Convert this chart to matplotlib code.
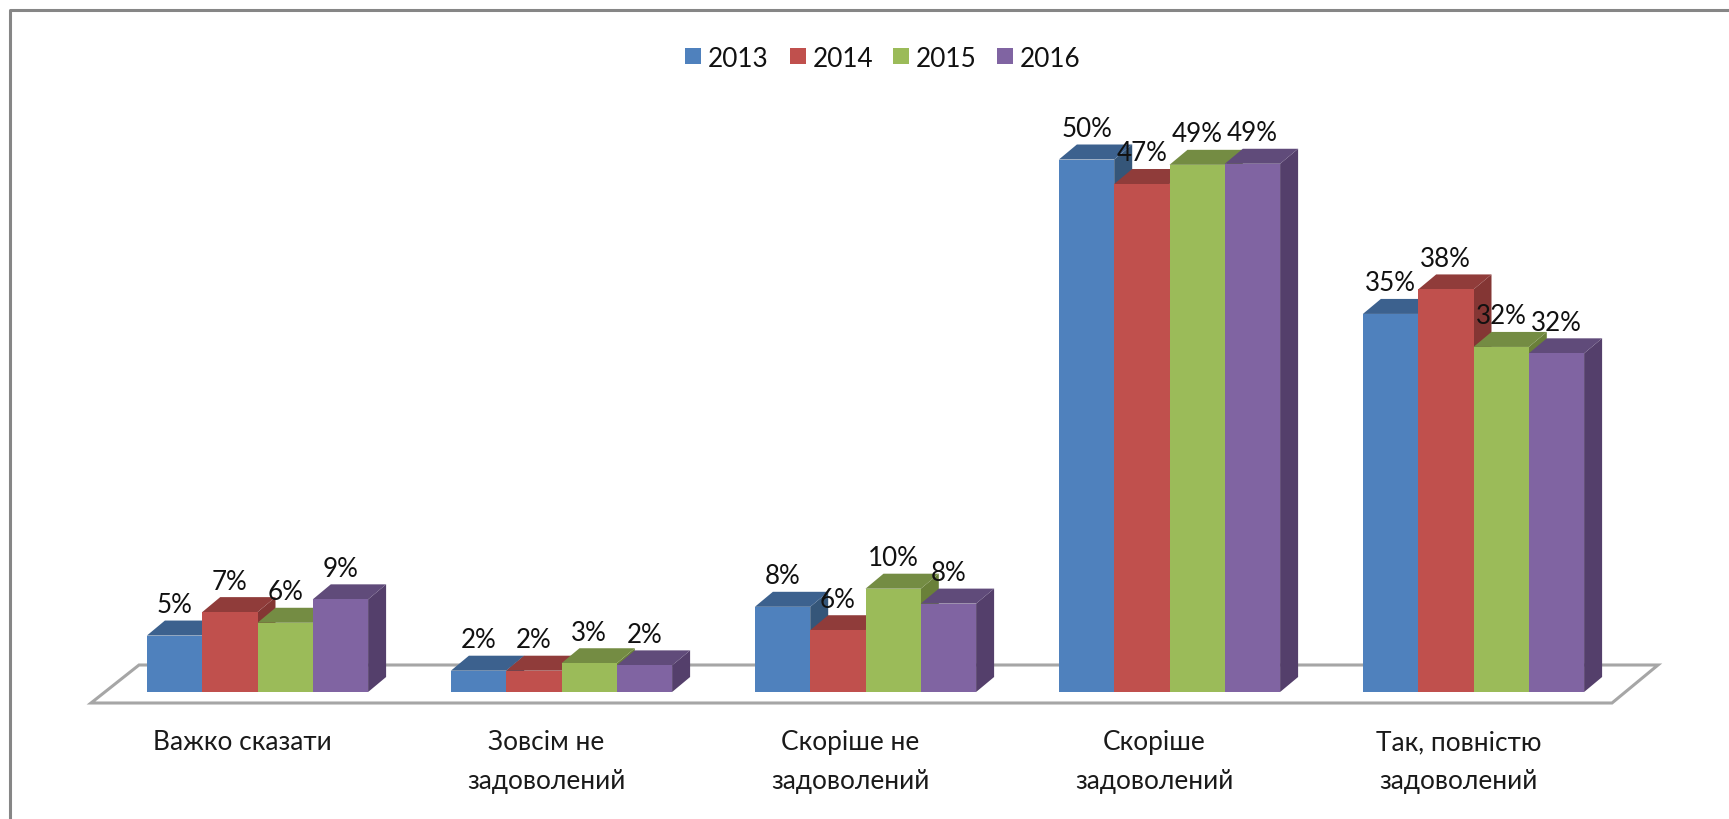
import matplotlib
matplotlib.use('Agg')
import matplotlib.pyplot as plt
from matplotlib.patches import Polygon, Rectangle
from matplotlib.lines import Line2D

categories = ['Важко сказати', 'Зовсім не\nзадоволений', 'Скоріше не\nзадоволений',
              'Скоріше\nзадоволений', 'Так, повністю\nзадоволений']
years = ['2013', '2014', '2015', '2016']
v2013 = [5.3, 2.0, 8.0, 50.0, 35.5]
v2014 = [7.5, 2.0, 5.8, 47.7, 37.8]
v2015 = [6.5, 2.7, 9.7, 49.5, 32.4]
v2016 = [8.7, 2.5, 8.3, 49.6, 31.8]
labels2013 = ['5%', '2%', '8%', '50%', '35%']
labels2014 = ['7%', '2%', '6%', '47%', '38%']
labels2015 = ['6%', '3%', '10%', '49%', '32%']
labels2016 = ['9%', '2%', '8%', '49%', '32%']

front = ['#4f81bd', '#c0504d', '#9bbb59', '#8064a2']
top = ['#3c618e', '#903c3a', '#748c43', '#604b7a']
side = ['#355679', '#843634', '#6a8039', '#543f6b']

plt.rcParams['font.family'] = ['Lato', 'Open Sans', 'DejaVu Sans']

W, H = 1729, 819
PX_X = 304.0  # px per category
PX_Y = 10.65  # px per percent
X0, Y0 = 257.5, 692.0

fig = plt.figure(figsize=(W / 100, H / 100), dpi=100)
ax = fig.add_axes([0, 0, 1, 1])
ax.set_xlim(-X0 / PX_X, (W - X0) / PX_X)
ax.set_ylim(-(H - Y0) / PX_Y, Y0 / PX_Y)
ax.axis('off')


def px(x):
    return (x - X0) / PX_X


def py(y):
    return (Y0 - y) / PX_Y


bw = 55.3 / PX_X
dx = 18 / PX_X
dy = 15 / PX_Y

# rama wykresu
ax.add_line(Line2D([px(9.5), px(9.5), px(1729)], [py(819), py(9.5), py(9.5)], color='#868686', lw=2.2, zorder=1))

# podloga
floor = [(px(91), py(703)), (px(139), py(665)), (px(1658), py(665)), (px(1612), py(703))]
ax.add_patch(Polygon(floor, closed=True, fc='white', ec='#a6a6a6', lw=2.2, zorder=2))

series = [v2013, v2014, v2015, v2016]
series_labels = [labels2013, labels2014, labels2015, labels2016]
z = 3
for c in range(len(categories)):
    for s in range(4):
        val = series[s][c]
        x = c - 2 * bw + s * bw
        ax.bar(x, val, bw, align='edge', color=front[s], zorder=z + 0.2)
        ax.add_patch(Polygon([(x + bw, 0), (x + bw + dx, dy), (x + bw + dx, val + dy), (x + bw, val)],
                             closed=True, fc=side[s], ec='none', zorder=z))
        ax.add_patch(Polygon([(x, val), (x + dx, val + dy), (x + bw + dx, val + dy), (x + bw, val)],
                             closed=True, fc=top[s], ec='none', zorder=z + 0.1))
        z += 1

for c in range(len(categories)):
    for s in range(4):
        x = c - 2 * bw + (s + 0.5) * bw
        ax.text(x, series[s][c] + 17.5 / PX_Y, series_labels[s][c], ha='center', va='bottom',
                fontsize=18.7, color='#111111', zorder=100)
    ax.text(c - 15 / PX_X, py(730), categories[c], ha='center', va='top', fontsize=18.9, color='#1a1a1a',
            linespacing=1.68, zorder=100)

# legenda
leg_sq = [685, 790, 893, 997]
for s in range(4):
    ax.add_patch(Rectangle((px(leg_sq[s]), py(64)), 16 / PX_X, 16 / PX_Y, fc=front[s], ec='none', zorder=100))
    ax.text(px(leg_sq[s] + 23), py(67), years[s], ha='left', va='baseline', fontsize=18.8, color='#111111', zorder=100)

fig.savefig('out.png', dpi=100)
